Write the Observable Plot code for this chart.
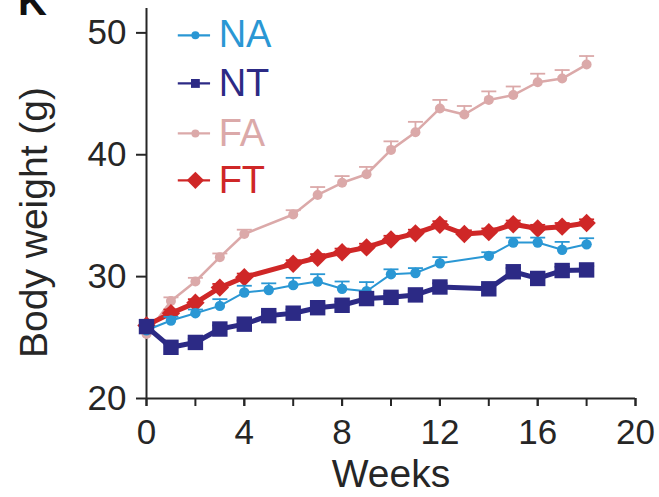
<!DOCTYPE html>
<html>
<head>
<meta charset="utf-8">
<script src="https://cdn.jsdelivr.net/npm/d3@7"></script>
<script src="https://cdn.jsdelivr.net/npm/@observablehq/plot@0.6"></script>
<style>
  html, body { margin: 0; padding: 0; background: #fff; }
  #wrap { position: relative; width: 659px; height: 497px; overflow: hidden; }
  #panel { position: absolute; left: 18px; top: -19px; font: bold 40px "Liberation Sans", Arial, sans-serif; line-height: 1; color: #111; }
</style>
</head>
<body>
<div id="wrap"><div id="panel">K</div></div>
<script>
// Body weight over 18 weeks for four groups (mean with upper SEM bar)
const groups = ["NA", "NT", "FA", "FT"];
const colors = ["#2a97d4", "#2c2a85", "#dba9a9", "#cf2727"];

const naWeeks = [0, 1, 2, 3, 4, 5, 6, 7, 8, 9, 10, 11, 12, 14, 15, 16, 17, 18];
const naMean = [25.6, 26.4, 27.0, 27.6, 28.7, 28.9, 29.3, 29.6, 29.0, 28.8, 30.2, 30.3, 31.1, 31.7, 32.8, 32.8, 32.2, 32.65];
const naSem = [0.3, 0.3, 0.3, 0.55, 0.55, 0.55, 0.6, 0.6, 0.6, 0.75, 0.4, 0.4, 0.5, 0.3, 0.4, 0.4, 0.65, 0.5];

const ntWeeks = [0, 1, 2, 3, 4, 5, 6, 7, 8, 9, 10, 11, 12, 14, 15, 16, 17, 18];
const ntMean = [25.9, 24.2, 24.6, 25.7, 26.1, 26.8, 27.0, 27.45, 27.65, 28.2, 28.3, 28.5, 29.15, 29.0, 30.4, 29.85, 30.5, 30.55];
const ntSem = [0.3, 0.3, 0.3, 0.3, 0.3, 0.3, 0.3, 0.3, 0.3, 0.3, 0.3, 0.3, 0.3, 0.3, 0.3, 0.3, 0.3, 0.3];

const faWeeks = [0, 1, 2, 3, 4, 6, 7, 8, 9, 10, 11, 12, 13, 14, 15, 16, 17, 18];
const faMean = [25.3, 28.0, 29.6, 31.6, 33.5, 35.1, 36.7, 37.7, 38.4, 40.4, 41.85, 43.8, 43.3, 44.5, 44.9, 45.95, 46.25, 47.4];
const faSem = [0.3, 0.3, 0.3, 0.3, 0.35, 0.35, 0.65, 0.55, 0.6, 0.7, 0.85, 0.7, 0.7, 0.7, 0.7, 0.7, 0.7, 0.7];

const ftWeeks = [0, 1, 2, 3, 4, 6, 7, 8, 9, 10, 11, 12, 13, 14, 15, 16, 17, 18];
const ftMean = [26.0, 27.0, 27.85, 29.1, 29.95, 31.05, 31.55, 32.0, 32.4, 33.05, 33.55, 34.25, 33.5, 33.65, 34.3, 33.95, 34.1, 34.4];
const ftSem = [0.3, 0.3, 0.3, 0.3, 0.3, 0.3, 0.3, 0.3, 0.3, 0.3, 0.3, 0.3, 0.3, 0.3, 0.3, 0.3, 0.3, 0.3];

const xTicks = [0, 2, 4, 6, 8, 10, 12, 14, 16, 18, 20];
const xLabels = [0, 4, 8, 12, 16, 20];
const yTicks = [20, 30, 40, 50];
const xTitle = "Weeks";
const yTitle = "Body weight (g)";

const rows = (weeks, mean, sem) => weeks.map((w, i) => ({week: w, mean: mean[i], sem: sem[i]}));

// Horizontal cap drawn at the top of each error bar
const capSymbol = {draw(ctx) { ctx.moveTo(-7.5, 0); ctx.lineTo(7.5, 0); }};

// drawing style per group: symbol, marker radius, line width
const styles = {
  FA: {data: rows(faWeeks, faMean, faSem), color: colors[2], symbol: "circle", r: 5, lw: 2.5, legendR: 4},
  FT: {data: rows(ftWeeks, ftMean, ftSem), color: colors[3], symbol: "diamond2", r: 8.3, lw: 5, legendR: 7.8},
  NA: {data: rows(naWeeks, naMean, naSem), color: colors[0], symbol: "circle", r: 5.2, lw: 2, legendR: 4},
  NT: {data: rows(ntWeeks, ntMean, ntSem), color: colors[1], symbol: "square", r: 8.7, lw: 5, legendR: 5}
};
const drawOrder = ["FA", "FT", "NA", "NT"];

const seriesMarks = drawOrder.flatMap(g => {
  const s = styles[g];
  return [
    Plot.ruleX(s.data, {x: "week", y1: "mean", y2: d => d.mean + d.sem, stroke: s.color, strokeWidth: 1.8}),
    Plot.dot(s.data, {x: "week", y: d => d.mean + d.sem, symbol: capSymbol, stroke: s.color, strokeWidth: 1.8, r: 5}),
    Plot.line(s.data, {x: "week", y: "mean", stroke: s.color, strokeWidth: s.lw}),
    Plot.dot(s.data, {x: "week", y: "mean", symbol: s.symbol, r: s.r, fill: s.color, stroke: "none"})
  ];
});

// Legend, placed inside the frame at the upper left (positions in week / gram units)
const legendRowY = [49.8, 45.85, 41.75, 37.9];
const legendLineX = [1.3, 2.62];
const legendMarkX = 2.0;
const legendTextX = 2.95;
const legend = groups.map((g, i) => ({group: g, y: legendRowY[i], color: colors[i]}));
const legendMarks = legend.flatMap(d => {
  const s = styles[d.group];
  return [
    Plot.ruleY([d], {y: "y", x1: legendLineX[0], x2: legendLineX[1], stroke: d.color, strokeWidth: 2.2}),
    Plot.dot([d], {x: legendMarkX, y: "y", symbol: s.symbol, r: s.legendR, fill: d.color, stroke: "none"}),
    Plot.text([d], {x: legendTextX, y: "y", text: "group", fill: d.color, textAnchor: "start", fontSize: 38})
  ];
});

const chart = Plot.plot({
  width: 659,
  height: 497,
  marginLeft: 146,
  marginRight: 24,
  marginTop: 8,
  marginBottom: 99,
  style: {fontFamily: '"Liberation Sans", Arial, sans-serif', fontSize: "35px", color: "#262626", background: "transparent", overflow: "visible"},
  x: {domain: [0, 20], label: null},
  y: {domain: [20, 52], label: null},
  marks: [
    Plot.axisX({ticks: xTicks, tickSize: 8, tickFormat: () => "", strokeWidth: 2, label: null}),
    Plot.axisX({ticks: xLabels, tickSize: 8, tickPadding: 13, strokeWidth: 2, fontSize: 35, label: null}),
    Plot.axisX({ticks: [], fontSize: 39, label: xTitle, labelAnchor: "center", labelOffset: 88, labelArrow: false}),
    Plot.axisY({ticks: yTicks, tickSize: 10, tickPadding: 10, strokeWidth: 2, fontSize: 35, label: null}),
    // y title, rotated, set a little below the frame's middle
    Plot.text([yTitle], {text: d => d, frameAnchor: "left", textAnchor: "middle", lineAnchor: "middle", rotate: -90, dx: -112, dy: 19, fontSize: 39, fill: "#262626"}),
    Plot.ruleX([0], {y1: 20, y2: 52, strokeWidth: 2, stroke: "#262626"}),
    Plot.ruleY([20], {x1: 0, x2: 20, strokeWidth: 2, stroke: "#262626"}),
    ...seriesMarks,
    ...legendMarks
  ]
});
chart.style.position = "absolute";
chart.style.left = "0";
chart.style.top = "0";
document.getElementById("wrap").appendChild(chart);
</script>
</body>
</html>
